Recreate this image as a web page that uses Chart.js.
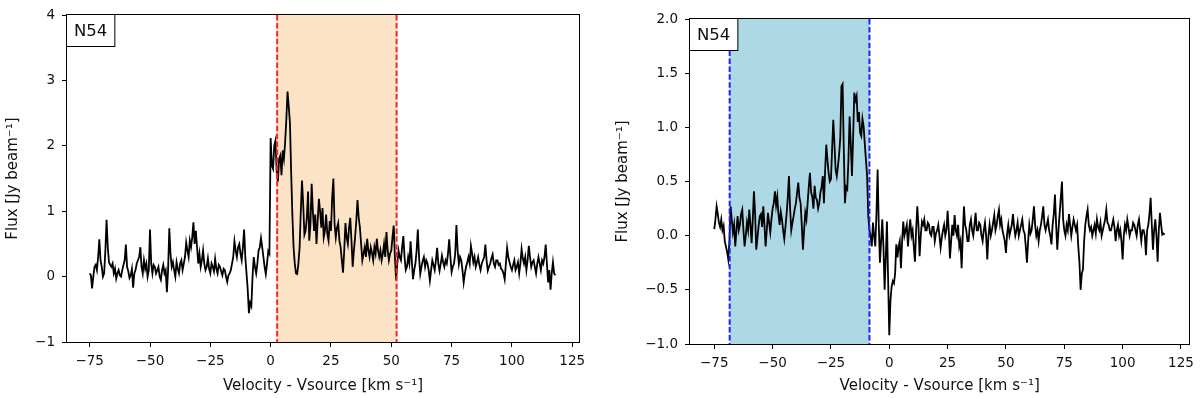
<!DOCTYPE html>
<html>
<head>
<meta charset="utf-8">
<script src="https://cdn.jsdelivr.net/npm/chart.js@4"></script>
<style>
  html, body { margin: 0; padding: 0; background: #fff; }
  .panel { position: absolute; top: 0; width: 600px; height: 398px; }
  #leftBox { left: 0; }
  #rightBox { left: 600px; }
</style>
</head>
<body>
<div class="panel" id="leftBox"><canvas id="leftChart" width="600" height="398"></canvas></div>
<div class="panel" id="rightBox"><canvas id="rightChart" width="600" height="398"></canvas></div>
<script>
// velocity channels (km/s relative to Vsource), 10 km/s per row
let velocity = [
  -75, -74.5, -74, -73.5, -73, -72.5, -72, -71.5, -71, -70.5, -70, -69.5, -69, -68.5, -68, -67.5, -67, -66.5, -66, -65.5,
  -65, -64.5, -64, -63.5, -63, -62.5, -62, -61.5, -61, -60.5, -60, -59.5, -59, -58.5, -58, -57.5, -57, -56.5, -56, -55.5,
  -55, -54.5, -54, -53.5, -53, -52.5, -52, -51.5, -51, -50.5, -50, -49.5, -49, -48.5, -48, -47.5, -47, -46.5, -46, -45.5,
  -45, -44.5, -44, -43.5, -43, -42.5, -42, -41.5, -41, -40.5, -40, -39.5, -39, -38.5, -38, -37.5, -37, -36.5, -36, -35.5,
  -35, -34.5, -34, -33.5, -33, -32.5, -32, -31.5, -31, -30.5, -30, -29.5, -29, -28.5, -28, -27.5, -27, -26.5, -26, -25.5,
  -25, -24.5, -24, -23.5, -23, -22.5, -22, -21.5, -21, -20.5, -20, -19.5, -19, -18.5, -18, -17.5, -17, -16.5, -16, -15.5,
  -15, -14.5, -14, -13.5, -13, -12.5, -12, -11.5, -11, -10.5, -10, -9.5, -9, -8.5, -8, -7.5, -7, -6.5, -6, -5.5,
  -5, -4.5, -4, -3.5, -3, -2.5, -2, -1.5, -1, -0.5, 0, 0.5, 1, 1.5, 2, 2.5, 3, 3.5, 4, 4.5,
  5, 5.5, 6, 6.5, 7, 7.5, 8, 8.5, 9, 9.5, 10, 10.5, 11, 11.5, 12, 12.5, 13, 13.5, 14, 14.5,
  15, 15.5, 16, 16.5, 17, 17.5, 18, 18.5, 19, 19.5, 20, 20.5, 21, 21.5, 22, 22.5, 23, 23.5, 24, 24.5,
  25, 25.5, 26, 26.5, 27, 27.5, 28, 28.5, 29, 29.5, 30, 30.5, 31, 31.5, 32, 32.5, 33, 33.5, 34, 34.5,
  35, 35.5, 36, 36.5, 37, 37.5, 38, 38.5, 39, 39.5, 40, 40.5, 41, 41.5, 42, 42.5, 43, 43.5, 44, 44.5,
  45, 45.5, 46, 46.5, 47, 47.5, 48, 48.5, 49, 49.5, 50, 50.5, 51, 51.5, 52, 52.5, 53, 53.5, 54, 54.5,
  55, 55.5, 56, 56.5, 57, 57.5, 58, 58.5, 59, 59.5, 60, 60.5, 61, 61.5, 62, 62.5, 63, 63.5, 64, 64.5,
  65, 65.5, 66, 66.5, 67, 67.5, 68, 68.5, 69, 69.5, 70, 70.5, 71, 71.5, 72, 72.5, 73, 73.5, 74, 74.5,
  75, 75.5, 76, 76.5, 77, 77.5, 78, 78.5, 79, 79.5, 80, 80.5, 81, 81.5, 82, 82.5, 83, 83.5, 84, 84.5,
  85, 85.5, 86, 86.5, 87, 87.5, 88, 88.5, 89, 89.5, 90, 90.5, 91, 91.5, 92, 92.5, 93, 93.5, 94, 94.5,
  95, 95.5, 96, 96.5, 97, 97.5, 98, 98.5, 99, 99.5, 100, 100.5, 101, 101.5, 102, 102.5, 103, 103.5, 104, 104.5,
  105, 105.5, 106, 106.5, 107, 107.5, 108, 108.5, 109, 109.5, 110, 110.5, 111, 111.5, 112, 112.5, 113, 113.5, 114, 114.5,
  115, 115.5, 116, 116.5, 117, 117.5, 118
];

// flux, left panel (Jy/beam)
let fluxLeft = [
  0.05, 0.02, -0.18, 0.00, 0.15, 0.18, 0.10, 0.30, 0.57, 0.25, 0.15, 0.00, 0.05, 0.40, 0.87, 0.45, 0.22, 0.18, 0.15, 0.20,
  0.05, 0.12, -0.03, 0.05, 0.10, 0.02, 0.00, 0.10, 0.18, 0.25, 0.49, 0.15, 0.08, -0.02, 0.02, 0.12, -0.17, 0.05, 0.10, 0.20,
  0.25, 0.30, 0.45, 0.15, 0.05, 0.25, 0.12, 0.20, 0.00, 0.10, 0.72, 0.20, 0.05, 0.18, 0.15, 0.05, 0.10, 0.15, 0.00, -0.05,
  0.10, 0.18, 0.05, 0.10, -0.24, 0.10, 0.74, 0.35, 0.15, 0.22, 0.10, 0.00, 0.22, 0.12, 0.05, 0.20, 0.25, 0.10, 0.20, 0.30,
  0.52, 0.40, 0.30, 0.55, 0.45, 0.60, 0.83, 0.50, 0.70, 0.45, 0.20, 0.35, 0.15, 0.25, 0.40, 0.20, 0.10, 0.15, 0.28, 0.12,
  0.05, 0.20, 0.15, 0.08, 0.27, 0.12, 0.05, 0.18, 0.15, 0.08, 0.02, 0.12, 0.10, 0.00, -0.08, 0.02, 0.05, 0.10, 0.20, 0.30,
  0.54, 0.40, 0.30, 0.45, 0.50, 0.35, 0.25, 0.45, 0.72, 0.30, 0.05, -0.20, -0.56, -0.40, -0.45, 0.00, 0.30, 0.15, 0.05, 0.20,
  0.40, 0.45, 0.59, 0.45, 0.30, 0.15, 0.04, 0.20, 0.39, 0.35, 2.12, 1.70, 1.65, 2.00, 2.08, 1.60, 1.45, 1.80, 1.85, 1.55,
  1.93, 1.80, 2.05, 2.40, 2.83, 2.60, 2.35, 1.60, 0.95, 0.45, 0.20, 0.05, 0.04, 0.20, 0.44, 1.00, 1.47, 1.10, 0.64, 0.70,
  0.90, 1.30, 0.55, 0.80, 1.42, 1.00, 0.70, 0.95, 0.50, 0.85, 1.19, 1.00, 0.75, 1.05, 0.60, 0.70, 0.95, 0.65, 0.55, 0.85,
  0.70, 1.20, 1.50, 0.80, 0.60, 0.75, 0.82, 0.55, 0.45, 0.25, 0.06, 0.40, 0.82, 0.60, 0.50, 0.75, 0.90, 0.55, 0.15, 0.40,
  0.60, 0.85, 1.17, 0.90, 0.75, 0.50, 0.25, 0.35, 0.45, 0.30, 0.58, 0.40, 0.30, 0.45, 0.36, 0.25, 0.45, 0.35, 0.58, 0.40,
  0.30, 0.40, 0.25, 0.35, 0.50, 0.30, 0.68, 0.40, 0.25, 0.35, 0.40, 0.60, 0.78, 0.30, -0.06, 0.20, 0.40, 0.30, 0.25, 0.45,
  0.62, 0.30, 0.10, 0.15, 0.30, 0.20, 0.54, 0.25, -0.04, 0.10, 0.20, 0.40, 0.72, 0.30, 0.04, 0.15, 0.24, 0.30, 0.15, 0.25,
  0.20, 0.10, -0.06, 0.10, 0.25, 0.18, 0.10, 0.25, 0.44, 0.20, 0.09, 0.20, 0.32, 0.22, 0.15, 0.25, 0.20, 0.35, 0.57, 0.30,
  0.07, 0.15, 0.20, 0.35, 0.79, 0.40, 0.19, 0.30, 0.25, 0.10, -0.09, 0.05, 0.15, 0.22, 0.30, 0.20, 0.47, 0.35, 0.22, 0.30,
  0.15, 0.22, 0.30, 0.18, 0.10, 0.20, 0.25, 0.30, 0.49, 0.25, 0.09, 0.15, 0.20, 0.28, 0.34, 0.20, 0.15, 0.25, 0.25, 0.18,
  0.20, 0.12, 0.10, 0.05, -0.04, 0.20, 0.44, 0.30, 0.22, 0.15, 0.10, 0.18, 0.25, 0.10, 0.15, 0.22, 0.05, 0.20, 0.42, 0.28,
  0.20, 0.30, 0.10, 0.25, 0.47, 0.30, 0.15, 0.22, 0.25, 0.15, 0.05, 0.20, 0.30, 0.20, 0.10, 0.25, 0.20, 0.30, 0.49, 0.20,
  -0.09, 0.10, -0.20, 0.05, 0.22, 0.05, 0.02
];

// flux, right panel (Jy/beam)
let fluxRight = [
  0.06, 0.15, 0.27, 0.20, 0.12, 0.08, 0.15, 0.05, 0.09, -0.05, -0.10, -0.15, -0.22, -0.05, 0.27, 0.15, 0.03, 0.10, -0.10, 0.05,
  0.18, 0.05, 0.10, 0.20, 0.24, 0.05, -0.10, 0.00, 0.12, 0.05, 0.24, 0.10, -0.07, 0.15, 0.41, 0.20, -0.13, -0.02, 0.09, 0.18,
  0.20, 0.08, 0.27, 0.10, -0.10, 0.05, 0.21, 0.12, 0.03, 0.15, 0.25, 0.30, 0.41, 0.28, 0.36, 0.20, 0.10, 0.22, 0.15, 0.05,
  -0.03, 0.08, 0.20, 0.35, 0.55, 0.25, 0.05, 0.12, 0.18, 0.25, 0.30, 0.40, 0.49, 0.35, 0.30, 0.10, -0.13, 0.05, 0.21, 0.15,
  0.30, 0.45, 0.58, 0.40, 0.36, 0.25, 0.46, 0.35, 0.33, 0.25, 0.30, 0.40, 0.45, 0.55, 0.30, 0.60, 0.84, 0.70, 0.58, 0.50,
  0.52, 0.80, 1.07, 0.85, 0.61, 0.55, 0.64, 0.75, 0.90, 1.38, 1.40, 0.80, 0.30, 0.45, 0.43, 0.70, 1.10, 0.85, 0.55, 0.90,
  1.32, 1.25, 1.29, 1.05, 1.14, 0.95, 0.92, 1.08, 1.01, 0.85, 0.70, 0.55, 0.18, 0.05, 0.00, -0.10, 0.12, 0.00, -0.10, 0.20,
  0.61, 0.10, -0.25, -0.05, 0.15, -0.10, -0.50, -0.20, 0.13, -0.40, -0.92, -0.60, -0.47, -0.42, -0.44, -0.35, -0.08, -0.20, -0.10, -0.05,
  -0.30, -0.05, 0.13, 0.00, 0.05, 0.10, -0.10, 0.05, 0.15, 0.00, 0.05, -0.10, -0.24, 0.05, 0.27, 0.10, -0.19, 0.00, 0.13, 0.10,
  0.15, 0.05, 0.05, 0.12, 0.10, 0.02, 0.00, 0.08, 0.08, -0.05, 0.02, 0.05, 0.10, 0.00, -0.11, -0.02, 0.05, 0.10, 0.00, 0.05,
  0.23, 0.05, -0.21, -0.05, 0.10, 0.00, 0.19, 0.05, 0.00, 0.10, -0.10, -0.05, -0.30, 0.00, 0.27, 0.10, 0.05, -0.05, -0.05, 0.10,
  0.15, 0.05, 0.00, 0.10, 0.21, 0.05, 0.05, 0.12, 0.10, 0.00, -0.05, 0.05, 0.12, 0.00, -0.22, 0.00, 0.10, 0.00, 0.05, 0.12,
  0.19, 0.05, 0.10, 0.18, 0.24, 0.10, 0.15, 0.05, 0.00, -0.05, -0.16, 0.02, 0.10, 0.00, 0.05, 0.10, 0.20, 0.08, 0.00, 0.05,
  0.12, 0.00, 0.05, 0.10, 0.15, 0.05, 0.02, -0.10, -0.25, -0.05, 0.10, 0.02, 0.05, 0.15, 0.27, 0.10, 0.00, 0.05, -0.05, 0.05,
  0.10, 0.18, 0.27, 0.10, 0.05, 0.10, 0.15, 0.05, 0.00, -0.08, 0.10, 0.20, 0.38, 0.10, -0.13, 0.05, 0.20, 0.35, 0.50, 0.15,
  0.05, 0.00, 0.10, 0.05, 0.20, 0.10, 0.00, 0.08, 0.15, 0.10, 0.05, 0.10, -0.10, -0.25, -0.50, -0.35, -0.31, -0.05, 0.10, 0.18,
  0.24, 0.10, 0.05, 0.08, 0.00, 0.05, 0.10, 0.02, 0.15, 0.08, 0.05, 0.12, 0.00, 0.05, 0.10, 0.15, 0.24, 0.12, 0.10, 0.05,
  0.05, 0.10, 0.15, 0.08, -0.05, 0.05, 0.10, 0.00, 0.05, -0.05, -0.22, 0.00, 0.10, 0.05, 0.15, 0.08, 0.00, 0.05, 0.05, 0.12,
  0.10, 0.05, 0.00, 0.10, 0.15, 0.05, -0.05, 0.05, 0.05, 0.00, -0.18, 0.05, 0.10, 0.20, 0.35, 0.10, -0.13, 0.05, 0.15, 0.00,
  -0.24, 0.05, 0.21, 0.10, 0.01, 0.02, 0.01
];

// velocity windows marked on each panel
let spanLeft = [2.7, 52.2];
let spanRight = [-68.4, -8.5];
let sourceName = "N54";

const FONT = "DejaVu Sans";
const INK = "#111";

function toPoints(xs, ys) {
  return xs.map((x, i) => ({ x: x, y: ys[i] }));
}

function minusSign(v) {
  return String(v).replace("-", "\u2212");
}

// shaded velocity window behind the spectrum, dashed limits on top
function windowPlugin(span, fill, lineColor) {
  return {
    id: "velWindow",
    beforeDatasetsDraw(chart) {
      let { ctx, chartArea, scales } = chart;
      let x0 = scales.x.getPixelForValue(span[0]);
      let x1 = scales.x.getPixelForValue(span[1]);
      ctx.save();
      ctx.fillStyle = fill;
      ctx.fillRect(x0, chartArea.top, x1 - x0, chartArea.bottom - chartArea.top);
      ctx.restore();
    },
    afterDatasetsDraw(chart) {
      let { ctx, chartArea, scales } = chart;
      ctx.save();
      ctx.strokeStyle = lineColor;
      ctx.lineWidth = 2;
      ctx.setLineDash([5.5, 2.4]);
      span.forEach(v => {
        let x = scales.x.getPixelForValue(v);
        ctx.beginPath();
        ctx.moveTo(x, chartArea.top);
        ctx.lineTo(x, chartArea.bottom);
        ctx.stroke();
      });
      ctx.restore();
    }
  };
}

// axes frame and the boxed source name
const framePlugin = {
  id: "frame",
  afterDraw(chart) {
    let { ctx, chartArea } = chart;
    ctx.save();
    ctx.strokeStyle = "#000";
    ctx.lineWidth = 1;
    ctx.strokeRect(Math.round(chartArea.left) - 0.5, Math.round(chartArea.top) - 0.5,
      Math.round(chartArea.right - chartArea.left) + 1, Math.round(chartArea.bottom - chartArea.top) + 1);

    ctx.font = "16.5px '" + FONT + "'";
    let w = ctx.measureText(sourceName).width + 15;
    let h = 32;
    let bx = Math.round(chartArea.left) - 0.5;
    let by = Math.round(chartArea.top) - 0.5;
    ctx.fillStyle = "#fff";
    ctx.fillRect(bx, by, w, h);
    ctx.strokeRect(bx, by, w, h);
    ctx.fillStyle = INK;
    ctx.textAlign = "center";
    ctx.textBaseline = "middle";
    ctx.fillText(sourceName, bx + w / 2, by + h / 2 + 1);
    ctx.restore();
  }
};

function makeChart(canvasId, flux, opts) {
  let context = document.getElementById(canvasId).getContext("2d");
  return new Chart(context, {
    type: "line",
    data: {
      datasets: [{
        data: toPoints(velocity, flux),
        borderColor: "#000",
        borderWidth: 1.8,
        pointRadius: 0,
        tension: 0,
        fill: false
      }]
    },
    options: {
      responsive: false,
      animation: false,
      devicePixelRatio: 1,
      layout: { padding: opts.padding },
      plugins: { legend: { display: false }, tooltip: { enabled: false } },
      scales: {
        x: {
          type: "linear",
          min: opts.xMin,
          max: opts.xMax,
          afterFit: s => { s.height = opts.xAxisHeight; },
          border: { display: false },
          grid: { drawOnChartArea: false, drawTicks: true, tickLength: 5, color: "#000", tickWidth: 1 },
          ticks: {
            stepSize: 25,
            includeBounds: false,
            autoSkip: false,
            maxRotation: 0,
            padding: 6,
            color: INK,
            font: { family: FONT, size: 13.5 },
            callback: v => minusSign(v)
          },
          title: {
            display: true,
            text: "Velocity - Vsource [km s\u207B\u00B9]",
            color: INK,
            font: { family: FONT, size: 15 },
            padding: { top: 0, bottom: 3 }
          }
        },
        y: {
          min: opts.yMin,
          max: opts.yMax,
          afterFit: s => { s.width = opts.yAxisWidth; },
          border: { display: false },
          grid: { drawOnChartArea: false, drawTicks: true, tickLength: 5, color: "#000", tickWidth: 1 },
          ticks: {
            stepSize: opts.yStep,
            includeBounds: false,
            padding: 7,
            color: INK,
            font: { family: FONT, size: 13.5 },
            callback: v => minusSign(opts.yDigits ? Number(v).toFixed(opts.yDigits) : v)
          },
          title: {
            display: true,
            text: "Flux [Jy beam\u207B\u00B9]",
            color: INK,
            font: { family: FONT, size: 15 },
            padding: { top: opts.yTitlePad, bottom: 0 }
          }
        }
      }
    },
    plugins: [windowPlugin(opts.span, opts.spanFill, opts.lineColor), framePlugin]
  });
}

makeChart("leftChart", fluxLeft, {
  padding: { left: 0, right: 21, top: 10, bottom: 0 },
  xMin: -84.4, xMax: 127.8, xAxisHeight: 56,
  yMin: -1, yMax: 4, yStep: 1, yDigits: 0, yAxisWidth: 67, yTitlePad: 4,
  span: spanLeft, spanFill: "#fde3c6", lineColor: "#ff2020"
});

makeChart("rightChart", fluxRight, {
  padding: { left: 0, right: 9, top: 19, bottom: 0 },
  xMin: -85.4, xMax: 128.6, xAxisHeight: 54,
  yMin: -1, yMax: 2, yStep: 0.5, yDigits: 1, yAxisWidth: 90, yTitlePad: 14,
  span: spanRight, spanFill: "#add8e6", lineColor: "#2020ff"
});
</script>
</body>
</html>
